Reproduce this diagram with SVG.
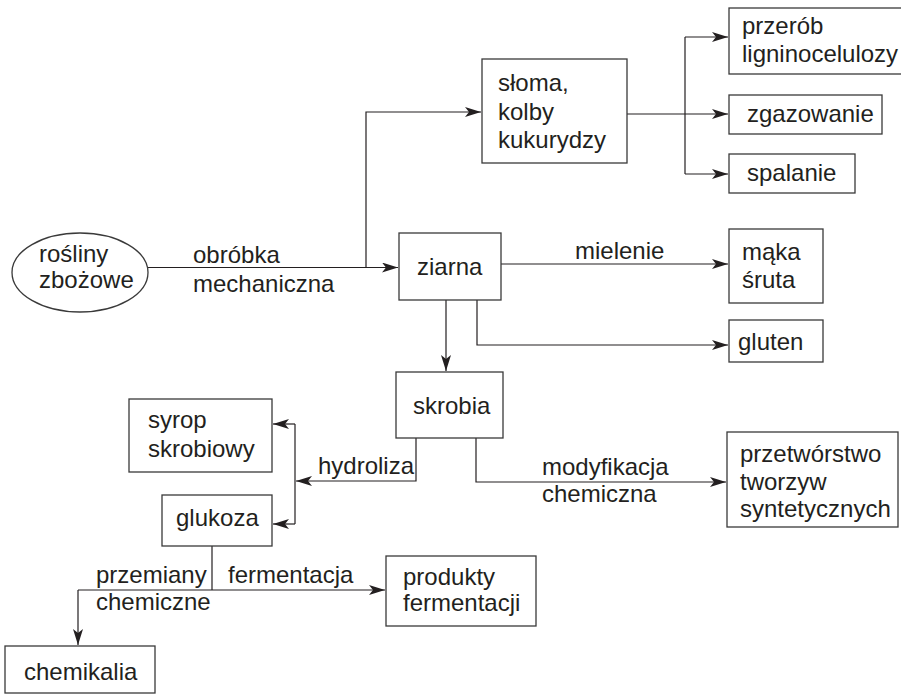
<svg xmlns="http://www.w3.org/2000/svg" width="901" height="695" viewBox="0 0 901 695">
  <style>
    .box { fill: #ffffff; stroke: #3a3a3a; stroke-width: 1.3; }
    .lbl { font-family: "Liberation Sans", Arial, sans-serif; font-size: 24px; fill: #231f20; }
    .wire { fill: none; stroke: #231f20; stroke-width: 1.2; }
    .arr { marker-end: url(#head); }
  </style>
  <defs>
    <marker id="head" markerUnits="userSpaceOnUse" viewBox="0 0 16 10" markerWidth="16" markerHeight="10" refX="16" refY="5" orient="auto">
      <path d="M0,0 L16,5 L0,10 L4,5 Z" fill="#231f20"/>
    </marker>
  </defs>
  <rect width="901" height="695" fill="#ffffff"/>

  <!-- connectors -->
  <g id="connectors">
    <path class="wire arr" d="M148,267.5 H398"/>
    <path class="wire arr" d="M366,267.5 V112 H481"/>
    <path class="wire arr" d="M627,114 H728"/>
    <path class="wire" d="M685,37 V174"/>
    <path class="wire arr" d="M685,37 H728"/>
    <path class="wire arr" d="M685,174 H728"/>
    <path class="wire arr" d="M501,264 H728"/>
    <path class="wire arr" d="M477,300 V345 H728"/>
    <path class="wire arr" d="M446,300 V371"/>
    <path class="wire arr" d="M416,438 V481 H296"/>
    <path class="wire" d="M295,424 V524"/>
    <path class="wire arr" d="M295,424 H273"/>
    <path class="wire arr" d="M295,524 H273"/>
    <path class="wire arr" d="M476,438 V482 H726"/>
    <path class="wire" d="M212,546 V590"/>
    <path class="wire arr" d="M78,590 H385"/>
    <path class="wire arr" d="M78,590 V645"/>
  </g>

  <!-- connector labels -->
  <g id="edge-labels" class="lbl">
    <text x="193" y="263">obróbka</text>
    <text x="193" y="292">mechaniczna</text>
    <text x="575" y="259">mielenie</text>
    <text x="318" y="474">hydroliza</text>
    <text x="542" y="475">modyfikacja</text>
    <text x="542" y="502">chemiczna</text>
    <text x="96" y="583">przemiany</text>
    <text x="96" y="610">chemiczne</text>
    <text x="228" y="583">fermentacja</text>
  </g>

  <!-- nodes -->
  <g id="rosliny">
    <ellipse class="box" cx="80" cy="272.5" rx="68" ry="39.5"/>
    <text class="lbl" x="39" y="262">rośliny</text>
    <text class="lbl" x="39" y="288">zbożowe</text>
  </g>
  <g id="sloma">
    <rect class="box" x="482" y="59" width="145" height="104"/>
    <text class="lbl" x="498" y="91">słoma,</text>
    <text class="lbl" x="498" y="120">kolby</text>
    <text class="lbl" x="498" y="148">kukurydzy</text>
  </g>
  <g id="przerob">
    <rect class="box" x="729" y="8" width="185" height="66"/>
    <text class="lbl" x="742" y="34">przerób</text>
    <text class="lbl" x="742" y="62">ligninocelulozy</text>
  </g>
  <g id="zgazowanie">
    <rect class="box" x="729" y="95" width="153" height="39"/>
    <text class="lbl" x="747" y="122">zgazowanie</text>
  </g>
  <g id="spalanie">
    <rect class="box" x="729" y="154" width="126" height="39"/>
    <text class="lbl" x="747" y="181">spalanie</text>
  </g>
  <g id="ziarna">
    <rect class="box" x="399" y="233" width="102" height="67"/>
    <text class="lbl" x="417" y="275">ziarna</text>
  </g>
  <g id="maka">
    <rect class="box" x="729" y="229" width="94" height="74"/>
    <text class="lbl" x="742" y="260">mąka</text>
    <text class="lbl" x="742" y="288">śruta</text>
  </g>
  <g id="gluten">
    <rect class="box" x="729" y="320" width="94" height="42"/>
    <text class="lbl" x="738" y="350">gluten</text>
  </g>
  <g id="skrobia">
    <rect class="box" x="396" y="372" width="107" height="66"/>
    <text class="lbl" x="413" y="414">skrobia</text>
  </g>
  <g id="syrop">
    <rect class="box" x="129" y="399" width="143" height="73"/>
    <text class="lbl" x="148" y="428">syrop</text>
    <text class="lbl" x="148" y="457">skrobiowy</text>
  </g>
  <g id="glukoza">
    <rect class="box" x="162" y="495" width="110" height="51"/>
    <text class="lbl" x="176" y="526">glukoza</text>
  </g>
  <g id="przetworstwo">
    <rect class="box" x="727" y="432" width="171" height="95"/>
    <text class="lbl" x="740" y="462">przetwórstwo</text>
    <text class="lbl" x="740" y="490">tworzyw</text>
    <text class="lbl" x="740" y="517">syntetycznych</text>
  </g>
  <g id="produkty">
    <rect class="box" x="386" y="556" width="150" height="70"/>
    <text class="lbl" x="403" y="585">produkty</text>
    <text class="lbl" x="403" y="611">fermentacji</text>
  </g>
  <g id="chemikalia">
    <rect class="box" x="5" y="646" width="150" height="47"/>
    <text class="lbl" x="24" y="680">chemikalia</text>
  </g>
</svg>
